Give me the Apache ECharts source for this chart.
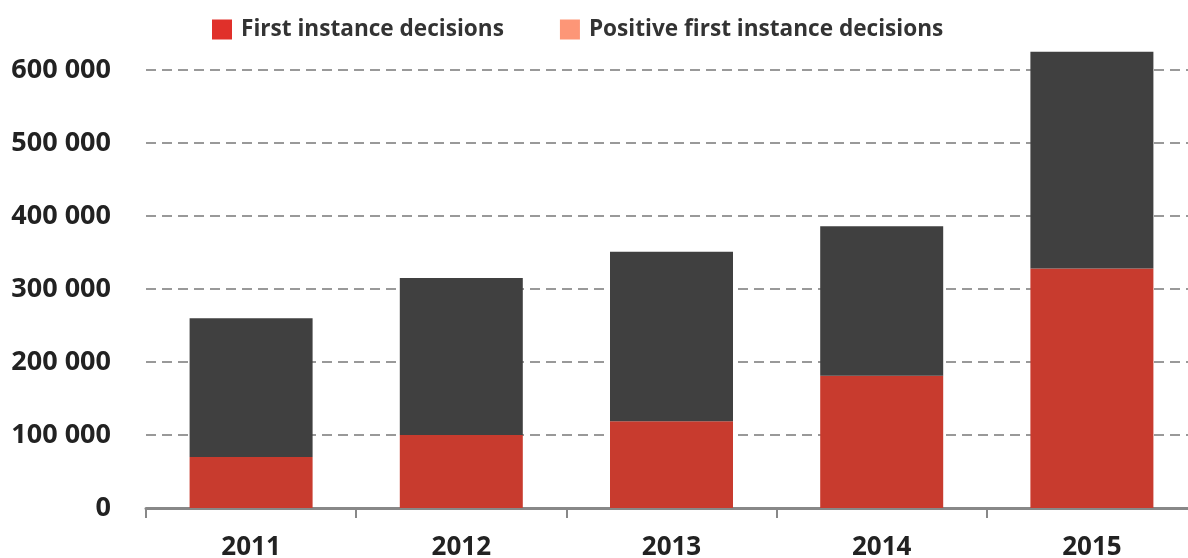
<!DOCTYPE html>
<html>
<head>
<meta charset="utf-8">
<script src="https://cdn.jsdelivr.net/npm/echarts@6/dist/echarts.min.js"></script>
<style>
  html, body { margin: 0; padding: 0; background: #fff; overflow: hidden; }
  #chart { width: 1200px; height: 558px; }
</style>
</head>
<body>
<div id="chart"></div>
<script>
// years on the x axis
const years = ['2011', '2012', '2013', '2014', '2015']
// all first instance decisions (bar total)
const totalDecisions = [260000, 315000, 351000, 386000, 625000]
// positive first instance decisions (red part)
const positiveDecisions = [70000, 100000, 119000, 181000, 328000]
// remainder stacked on top (gray part)
const otherDecisions = totalDecisions.map((t, i) => t - positiveDecisions[i])

const FONT = '"Open Sans", sans-serif'

// the plot runs a little past the right edge of the window, so the div is wider
const chart = echarts.init(document.getElementById('chart'))
chart.setOption({
  animation: false,
  legend: {
    top: 18,
    left: 212,
    padding: 0,
    itemWidth: 20,
    itemHeight: 20,
    itemGap: 56,
    icon: 'rect',
    textStyle: { fontFamily: FONT, fontWeight: 'bold', fontSize: 22.6, color: '#333', padding: [0, 0, 0, 4] },
    data: [
      { name: 'First instance decisions', itemStyle: { color: '#e0302a' } },
      { name: 'Positive first instance decisions', itemStyle: { color: '#fd9677' } }
    ]
  },
  grid: {
    top: 70,
    left: 146,
    right: 3,
    bottom: 50,
    outerBoundsMode: 'none'
  },
  xAxis: {
    type: 'category',
    data: years,
    axisTick: { show: true, length: 10, lineStyle: { color: '#888', width: 2 } },
    axisLine: { lineStyle: { color: '#888', width: 3 } },
    axisLabel: { fontFamily: FONT, fontWeight: 'bold', fontSize: 26, color: '#222', margin: 27 }
  },
  yAxis: {
    type: 'value',
    min: 0,
    max: 600000,
    interval: 100000,
    axisLine: { show: false },
    axisTick: { show: false },
    axisLabel: {
      fontFamily: FONT, fontWeight: 'bold', fontSize: 27, color: '#222', margin: 35,
      formatter: v => String(v).replace(/\B(?=(\d{3})+(?!\d))/g, ' ')
    },
    splitLine: {
      lineStyle: { color: '#999', width: 2, type: [10, 6] }
    }
  },
  series: [
    {
      name: 'Positive first instance decisions',
      type: 'bar',
      stack: 'total',
      barWidth: 123,
      clip: false,
      itemStyle: { color: '#c83b2e' },
      data: positiveDecisions
    },
    {
      name: 'First instance decisions',
      type: 'bar',
      stack: 'total',
      barWidth: 123,
      clip: false,
      itemStyle: { color: '#404040' },
      data: otherDecisions
    }
  ]
})
</script>
</body>
</html>
